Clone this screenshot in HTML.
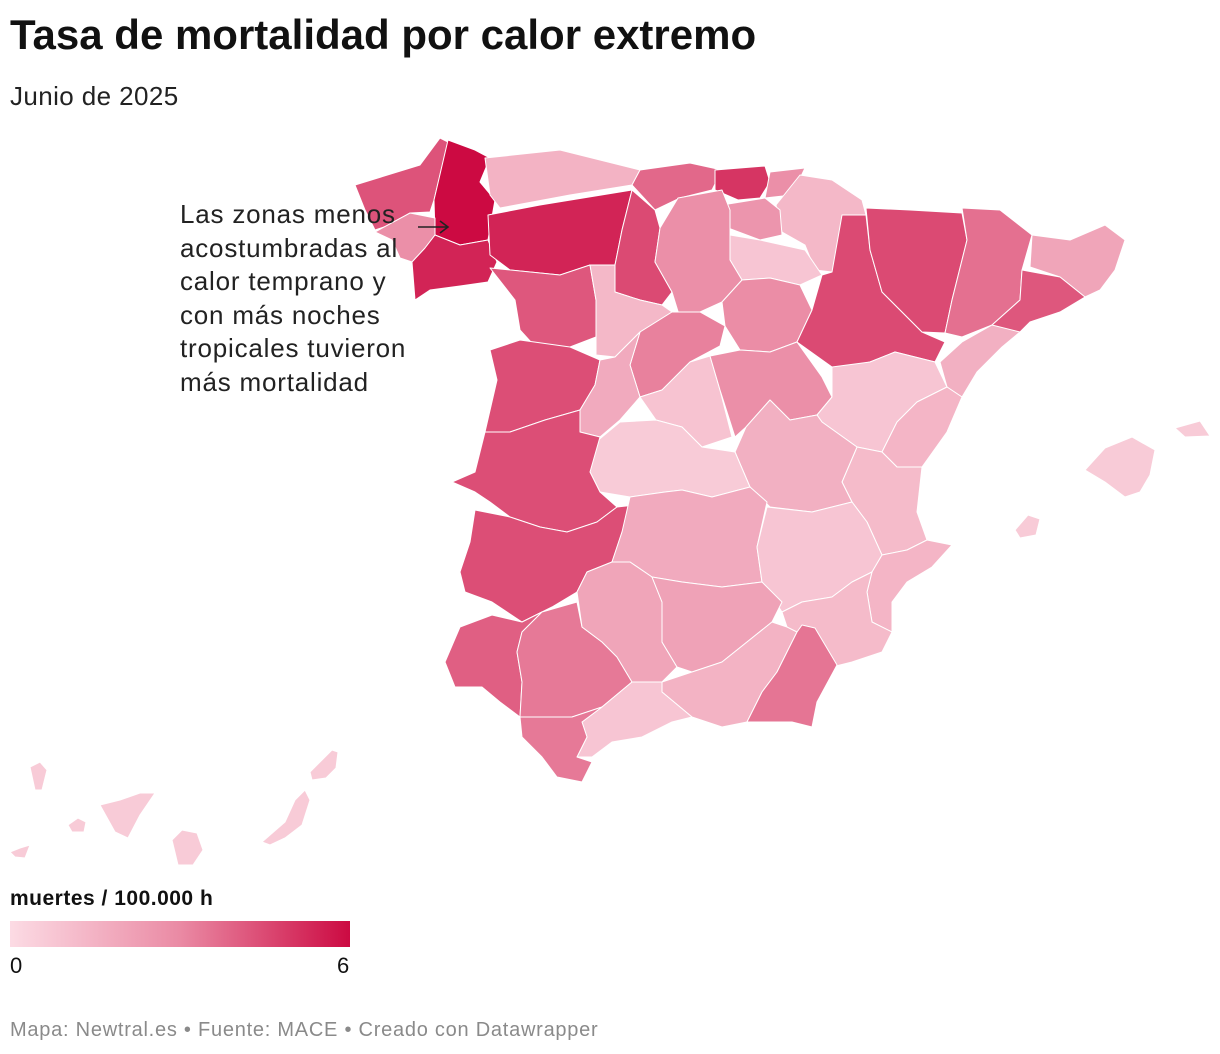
<!DOCTYPE html>
<html><head><meta charset="utf-8">
<style>
body{margin:0;background:#fff;font-family:"Liberation Sans",Arial,sans-serif;}
#wrap{position:relative;width:1220px;height:1054px;overflow:hidden;}
.t{position:absolute;color:#111;white-space:nowrap;}
</style></head><body>
<div id="wrap">
<div class="t" style="left:10px;top:11px;font-size:42px;font-weight:bold;">Tasa de mortalidad por calor extremo</div>
<div class="t" style="left:10px;top:81px;font-size:26px;letter-spacing:0.4px;color:#222;">Junio de 2025</div>
<svg id="map" width="1220" height="1054" style="position:absolute;left:0;top:0"></svg>
<div class="t" style="left:180px;top:198px;font-size:26px;letter-spacing:0.8px;line-height:33.6px;color:#222;">Las zonas menos<br>acostumbradas al<br>calor temprano y<br>con más noches<br>tropicales tuvieron<br>más mortalidad</div>
<div class="t" style="left:10px;top:887px;font-size:21px;letter-spacing:0.5px;font-weight:bold;">muertes / 100.000 h</div>
<div style="position:absolute;left:10px;top:921px;width:340px;height:26px;background:linear-gradient(to right,#fcdbe4,#ea8aa4,#cc0a42);"></div>
<div class="t" style="left:10px;top:953px;font-size:22px;">0</div>
<div class="t" style="left:337px;top:953px;font-size:22px;">6</div>
<div class="t" style="left:10px;top:1019px;font-size:20px;letter-spacing:0.75px;color:#8a8a8a;">Mapa: Newtral.es • Fuente: MACE • Creado con Datawrapper</div>
</div>
<script>
const provinces=["A Coruña","Lugo","Pontevedra","Ourense","Asturias","Cantabria","Vizcaya","Guipúzcoa","Navarra","Álava","La Rioja","León","Palencia","Burgos","Zamora","Valladolid","Salamanca","Segovia","Soria","Ávila","Madrid","Guadalajara","Zaragoza","Huesca","Lleida","Girona","Barcelona","Tarragona","Teruel","Castellón","Valencia","Cuenca","Toledo","Cáceres","Badajoz","Ciudad Real","Albacete","Alicante","Murcia","Huelva","Sevilla","Córdoba","Jaén","Granada","Almería","Málaga","Cádiz","Mallorca","Menorca","Ibiza","Lanzarote","Fuerteventura","Gran Canaria","Tenerife","La Gomera","La Palma","El Hierro"];
const values=[4.3,6,2.8,5.4,1.5,3.8,5,2.8,1.3,2.6,0.8,5.4,4.5,2.8,4.2,1.3,4.4,3.2,2.9,1.8,0.9,2.8,4.5,4.5,3.6,2,4.2,1.6,0.8,1.4,1.2,1.6,0.6,4.4,4.4,1.8,0.8,1.4,1.2,4,3.4,2,2.1,1.5,3.5,0.8,3.4,0.6,0.6,0.6,0.6,0.6,0.6,0.6,0.6,0.6,0.6];
const domainMin=0, domainMax=6;
const shapes={
"A Coruña":[[355,185],[420,165],[440,138],[448,142],[434,200],[430,212],[410,213],[390,225],[375,230],[365,210]],
"Lugo":[[448,140],[475,150],[490,158],[480,182],[495,200],[488,240],[460,245],[435,235],[434,200]],
"Pontevedra":[[375,232],[410,213],[435,218],[435,235],[425,248],[412,262],[400,258],[392,240]],
"Ourense":[[412,262],[425,248],[435,235],[460,245],[488,240],[497,262],[488,282],[460,286],[430,290],[415,300]],
"Asturias":[[485,158],[560,150],[640,170],[632,185],[570,195],[500,208],[490,195]],
"Cantabria":[[640,170],[690,163],[722,170],[712,190],[680,198],[655,210],[632,185]],
"Vizcaya":[[715,170],[765,166],[770,182],[760,198],[738,200],[715,190]],
"Guipúzcoa":[[770,172],[805,168],[792,195],[765,198]],
"Navarra":[[800,175],[832,180],[862,200],[866,215],[852,245],[832,272],[815,270],[805,245],[782,232],[776,205]],
"Álava":[[722,205],[765,198],[780,210],[782,235],[760,240],[728,228]],
"La Rioja":[[730,235],[760,240],[805,250],[822,275],[800,285],[770,278],[742,280],[730,260]],
"León":[[488,215],[540,205],[632,190],[622,230],[615,265],[590,265],[560,275],[510,270],[490,255]],
"Palencia":[[632,190],[655,210],[660,228],[655,262],[672,292],[662,305],[640,300],[615,292],[615,265],[622,230]],
"Burgos":[[660,228],[678,198],[722,190],[730,210],[730,260],[742,280],[722,302],[700,312],[680,318],[672,292],[655,262]],
"Zamora":[[490,268],[560,275],[590,265],[596,300],[596,337],[570,347],[540,352],[520,330],[515,300]],
"Valladolid":[[590,265],[615,265],[615,292],[640,300],[662,305],[672,312],[640,332],[615,357],[596,355],[596,300]],
"Salamanca":[[490,350],[520,340],[570,347],[600,360],[595,385],[580,410],[545,420],[510,432],[485,432],[497,380]],
"Segovia":[[672,312],[700,312],[725,326],[720,346],[690,362],[662,390],[640,397],[630,365],[640,332]],
"Soria":[[742,280],[770,278],[800,285],[812,310],[797,342],[770,352],[740,350],[725,326],[722,302]],
"Ávila":[[600,360],[615,357],[640,332],[630,365],[640,397],[620,420],[600,437],[580,432],[580,410],[595,385]],
"Madrid":[[640,397],[662,390],[690,362],[710,356],[720,390],[732,437],[702,447],[682,427],[656,420]],
"Guadalajara":[[710,356],[740,350],[770,352],[797,342],[822,377],[832,397],[817,415],[790,420],[770,400],[746,427],[735,437],[720,390]],
"Zaragoza":[[842,215],[866,215],[870,250],[882,292],[922,332],[945,342],[935,362],[895,352],[870,362],[850,367],[832,367],[797,342],[812,310],[822,275],[832,272]],
"Huesca":[[866,208],[910,210],[962,213],[967,240],[952,300],[945,333],[922,332],[882,292],[870,250]],
"Lleida":[[962,208],[1000,210],[1032,235],[1022,270],[1020,300],[992,325],[962,337],[945,333],[952,300],[967,240]],
"Girona":[[1032,235],[1070,240],[1105,225],[1125,240],[1115,270],[1100,290],[1085,297],[1060,277],[1030,267]],
"Barcelona":[[1022,270],[1060,277],[1085,297],[1060,312],[1030,322],[1020,332],[1000,332],[992,325],[1020,300]],
"Tarragona":[[992,325],[1020,332],[1002,347],[977,372],[962,397],[947,387],[940,362],[962,342]],
"Teruel":[[832,367],[870,362],[895,352],[935,362],[947,387],[917,402],[897,422],[882,452],[857,447],[822,422],[817,415],[832,397]],
"Castellón":[[947,387],[962,397],[947,432],[922,467],[897,467],[882,452],[897,422],[917,402]],
"Valencia":[[857,447],[882,452],[897,467],[922,467],[917,512],[927,540],[907,550],[882,555],[867,522],[852,502],[842,482]],
"Cuenca":[[746,427],[770,400],[790,420],[817,415],[822,422],[857,447],[842,482],[852,502],[812,512],[770,507],[750,487],[735,452]],
"Toledo":[[590,447],[620,422],[656,420],[682,427],[702,447],[735,452],[750,487],[712,497],[682,490],[665,492],[630,497],[600,492],[590,472]],
"Cáceres":[[485,432],[510,432],[545,420],[580,410],[580,432],[600,437],[590,472],[600,492],[617,507],[597,522],[567,532],[540,527],[510,517],[490,502],[475,492],[452,482],[475,472]],
"Badajoz":[[475,510],[510,517],[540,527],[567,532],[597,522],[617,507],[635,505],[622,532],[612,562],[587,572],[577,592],[552,607],[522,622],[492,602],[465,592],[460,572],[470,542]],
"Ciudad Real":[[630,497],[665,492],[682,490],[712,497],[750,487],[767,502],[757,547],[762,582],[722,587],[682,582],[652,577],[630,562],[612,562],[622,532]],
"Albacete":[[767,507],[812,512],[852,502],[867,522],[882,555],[872,572],[852,582],[832,597],[802,602],[782,612],[762,582],[757,547]],
"Alicante":[[882,555],[907,550],[927,540],[952,545],[932,567],[907,582],[892,602],[892,632],[872,622],[867,592],[872,572]],
"Murcia":[[832,597],[852,582],[872,572],[867,592],[872,622],[892,632],[882,652],[852,662],[832,667],[802,642],[787,627],[782,612],[802,602]],
"Huelva":[[460,627],[492,615],[522,622],[542,612],[522,632],[517,652],[522,682],[520,717],[500,702],[482,687],[455,687],[445,662]],
"Sevilla":[[542,612],[577,602],[582,627],[602,642],[617,657],[632,682],[602,707],[572,717],[545,717],[520,717],[522,682],[517,652],[522,632]],
"Córdoba":[[577,592],[587,572],[612,562],[630,562],[652,577],[662,602],[662,642],[677,667],[662,682],[632,682],[617,657],[602,642],[582,627]],
"Jaén":[[662,602],[652,577],[682,582],[722,587],[762,582],[782,602],[772,622],[747,642],[722,662],[692,672],[677,667],[662,642]],
"Granada":[[692,672],[722,662],[747,642],[772,622],[787,627],[797,632],[777,672],[762,692],[747,722],[722,727],[692,717],[662,692],[662,682]],
"Almería":[[797,632],[802,625],[815,628],[837,665],[817,702],[812,727],[792,722],[772,722],[747,722],[762,692],[777,672]],
"Málaga":[[602,707],[632,682],[662,682],[662,692],[692,717],[672,722],[642,737],[612,742],[592,757],[577,757],[587,737],[582,722]],
"Cádiz":[[520,717],[545,717],[572,717],[602,707],[582,722],[587,737],[577,757],[592,762],[582,782],[557,777],[542,757],[522,737]],
"Mallorca":[[1085,470],[1105,448],[1132,437],[1155,450],[1150,475],[1140,492],[1125,497],[1105,482]],
"Menorca":[[1175,428],[1200,421],[1210,436],[1185,437]],
"Ibiza":[[1015,530],[1028,515],[1040,519],[1036,535],[1020,538]],
"Lanzarote":[[310,772],[322,760],[332,750],[338,752],[336,768],[326,778],[312,780]],
"Fuerteventura":[[262,842],[285,822],[295,800],[305,790],[310,800],[302,825],[285,838],[270,845]],
"Gran Canaria":[[172,840],[182,830],[197,833],[203,850],[193,865],[178,865]],
"Tenerife":[[100,805],[120,800],[140,793],[155,793],[140,815],[128,838],[115,832]],
"La Gomera":[[68,825],[78,818],[86,822],[84,832],[72,832]],
"La Palma":[[30,767],[40,762],[47,770],[42,790],[35,790]],
"El Hierro":[[10,852],[20,848],[30,845],[25,858],[15,857]]
};
const svg=document.getElementById('map');
const stops=[[252,219,228],[234,138,164],[204,10,66]];
function color(v){
  let t=Math.max(0,Math.min(1,(v-domainMin)/(domainMax-domainMin)))*2;
  let i=Math.min(1,Math.floor(t)),f=t-i;
  const a=stops[i],b=stops[i+1];
  return 'rgb('+a.map((c,k)=>Math.round(c+(b[k]-c)*f)).join(',')+')';
}
provinces.forEach((name,i)=>{
  const pts=shapes[name]; if(!pts) return;
  const p=document.createElementNS('http://www.w3.org/2000/svg','polygon');
  p.setAttribute('points',pts.map(q=>q.join(',')).join(' '));
  p.setAttribute('fill',color(values[i]));
  p.setAttribute('stroke','#fff');
  p.setAttribute('stroke-width','1');
  p.setAttribute('stroke-linejoin','round');
  
  
  const tt=document.createElementNS('http://www.w3.org/2000/svg','title');
  tt.textContent=name+': '+values[i];
  p.appendChild(tt);
  svg.appendChild(p);
});
const ar=document.createElementNS('http://www.w3.org/2000/svg','path');
ar.setAttribute('d','M418 227 H447 M440 221 L448 227 L440 233');
ar.setAttribute('stroke','#222');ar.setAttribute('stroke-width','1.6');ar.setAttribute('fill','none');


svg.appendChild(ar);
</script>
</body></html>
